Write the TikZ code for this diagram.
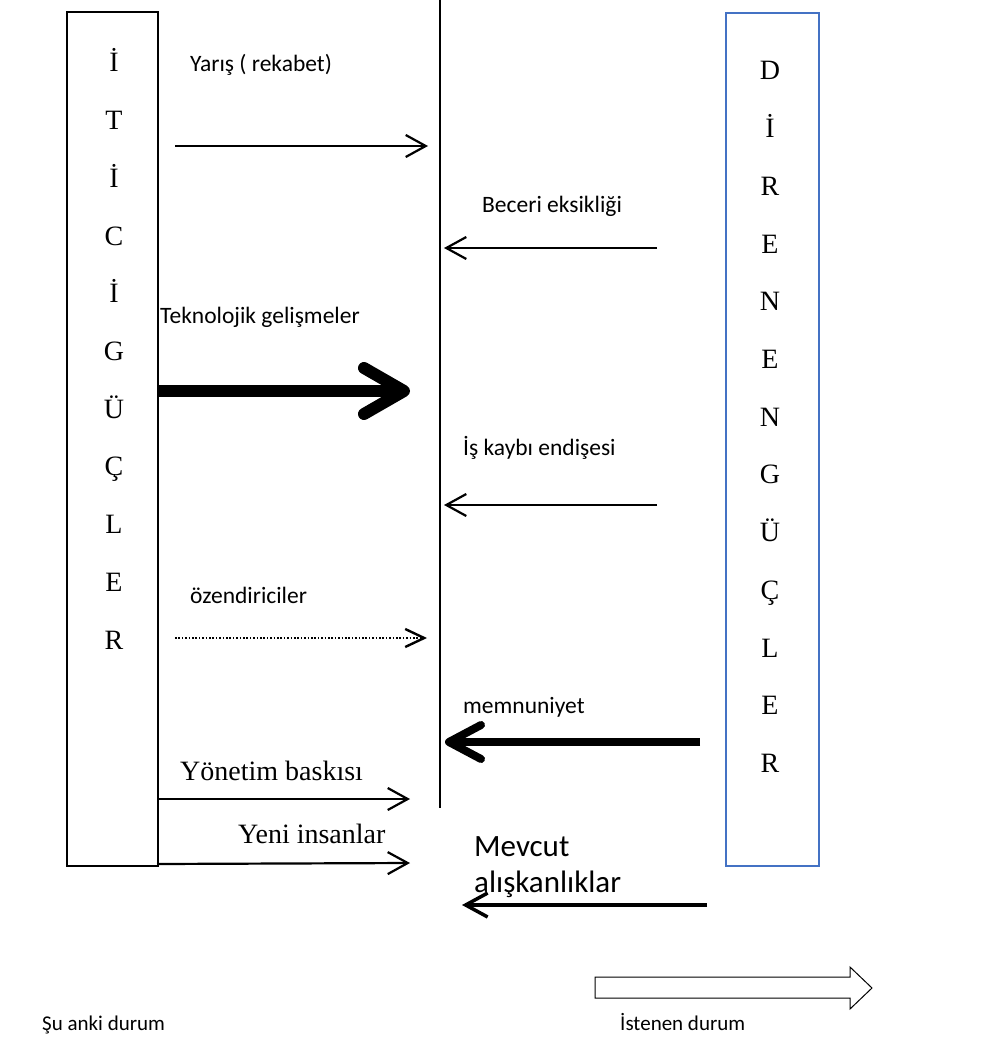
\documentclass[tikz,border=0pt]{standalone}
\usepackage{fontspec}
\setmainfont{Liberation Serif}
\newfontfamily\calfont{Carlito}
\usetikzlibrary{arrows.meta}
\definecolor{boxblue}{HTML}{4472C4}
\begin{document}
\begin{tikzpicture}[x=1pt,y=-1pt,
  colletter/.style={anchor=base,inner sep=0pt,font=\fontsize{28}{31}\selectfont},
  lbl/.style={anchor=base west,inner sep=0pt,font=\calfont\fontsize{23.5}{28}\selectfont},
  serlbl/.style={anchor=base west,inner sep=0pt,font=\fontsize{28}{32}\selectfont},
  biglbl/.style={anchor=base west,inner sep=0pt,font=\calfont\fontsize{31}{35}\selectfont},
  smalllbl/.style={anchor=base west,inner sep=0pt,font=\calfont\fontsize{21}{25}\selectfont},
  thinarrow/.style={line width=2.2pt,-{Straight Barb[length=20pt,width=22pt]}},
  dotarrow/.style={line width=2.4pt,dash pattern=on 1.5pt off 1.9pt,-{Straight Barb[length=19pt,width=18pt]}},
  medarrow/.style={line width=3.5pt,-{Straight Barb[length=22pt,width=24pt]}},
  heavyarrow/.style={line width=12pt,-{Straight Barb[length=40pt,width=46pt,round]}},
  boldarrow/.style={line width=8pt,-{Straight Barb[length=32pt,width=34pt,round]}},
  leftbox/.style={draw=black,line width=2.2pt,minimum width=91pt,minimum height=854pt,anchor=north west,inner sep=0pt},
  rightbox/.style={draw=boxblue,line width=2.4pt,minimum width=93pt,minimum height=853pt,anchor=north west,inner sep=0pt}
]
\useasboundingbox (0,0) rectangle (985,1038);
\fill[white] (0,0) rectangle (985,1038);

% boxes
\node[leftbox] (itici) at (66,11) {};
\node[rightbox] (direnc) at (725,12) {};

% column letters
\foreach \L [count=\i from 0] in {İ,T,İ,C,İ,G,Ü,Ç,L,E,R}
  \node[colletter] (l\i) at (114,72+57.7*\i) {\L};
\foreach \L [count=\i from 0] in {D,İ,R,E,N,E,N,G,Ü,Ç,L,E,R}
  \node[colletter] (r\i) at (770,80+57.7*\i) {\L};

% centre line
\coordinate (ctop) at (440,0);
\coordinate (cbot) at (440,808);
\draw[line width=2pt] (ctop) -- (cbot);

% labels
\node[lbl] (t1) at (190,72) {Yarış ( rekabet)};
\node[lbl] (t2) at (482,212) {Beceri eksikliği};
\node[lbl] (t3) at (160,323) {Teknolojik gelişmeler};
\node[lbl] (t4) at (463,455) {İş kaybı endişesi};
\node[lbl] (t5) at (190,603) {özendiriciler};
\node[lbl] (t6) at (463,713) {memnuniyet};
\node[serlbl] (t7) at (180,780) {Yönetim baskısı};
\node[serlbl] (t8) at (238,843) {Yeni insanlar};
\node[biglbl] (t9) at (474,856) {Mevcut};
\node[biglbl] (t10) at (474,892) {alışkanlıklar};
\node[smalllbl] (t11) at (42,1030) {Şu anki durum};
\node[smalllbl] (t12) at (620,1030) {İstenen durum};

% arrows
\coordinate (a1s) at (175,146); \coordinate (a1e) at (428,146);
\coordinate (a2s) at (657,248); \coordinate (a2e) at (444,248);
\coordinate (a3s) at (157,391); \coordinate (a3e) at (410,391);
\coordinate (a4s) at (657,505); \coordinate (a4e) at (444,505);
\coordinate (a5s) at (175,638); \coordinate (a5e) at (427,638);
\coordinate (a6s) at (700,742); \coordinate (a6e) at (445,742);
\coordinate (a7s) at (157,799); \coordinate (a7e) at (410,799);
\coordinate (a8s) at (157,864); \coordinate (a8e) at (410,863);
\coordinate (a9s) at (707,905); \coordinate (a9e) at (462,905);

\draw[thinarrow] (a1s) -- (a1e);
\draw[thinarrow] (a2s) -- (a2e);
\draw[heavyarrow] (a3s) -- (a3e);
\draw[thinarrow] (a4s) -- (a4e);
\draw[dotarrow] (a5s) -- (a5e);
\draw[boldarrow] (a6s) -- (a6e);
\draw[thinarrow] (a7s) -- (a7e);
\draw[thinarrow] (a8s) -- (a8e);
\draw[medarrow] (a9s) -- (a9e);

% hollow block arrow
\draw[line width=1pt,fill=white] (595,977) -- (850,977) -- (850,967) -- (872,988)
  -- (850,1009) -- (850,998) -- (595,998) -- cycle;
\end{tikzpicture}
\end{document}
